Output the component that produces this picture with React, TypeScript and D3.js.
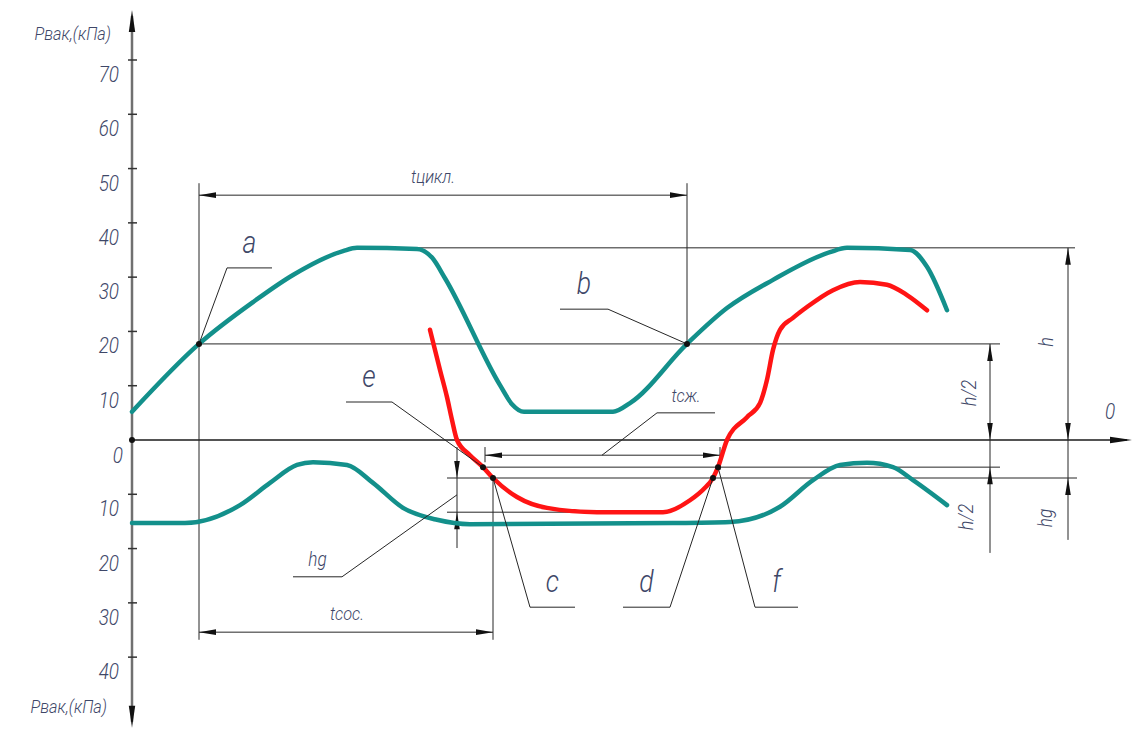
import React from "react";
import * as d3 from "d3";

// Vacuum pressure, kPa, against time (arbitrary units)
const pulsatorUpper: [number, number][] = [
  [0, 5.2], [67, 17.7], [121, 25.4], [161, 30.4], [211, 34.8], [225, 35.4],
  [285, 35.2], [300, 33.6], [313, 29.8], [368, 10.1], [380, 6.6], [392, 5.2],
  [481, 5.2], [498, 6.8], [555, 17.7], [595, 24.3], [641, 29.5], [698, 34.6],
  [715, 35.4], [778, 35.0], [795, 31.9], [815, 23.9],
];

const pulsatorLower: [number, number][] = [
  [0, -15.3], [53, -15.3], [108, -12.0], [138, -7.9], [165, -4.6], [181, -4.1],
  [215, -4.6], [241, -7.9], [271, -12.5], [305, -14.7], [338, -15.5], [541, -15.3],
  [598, -15.1], [648, -12.3], [681, -7.4], [708, -4.6], [735, -4.2], [761, -5.0],
  [781, -7.4], [815, -12.0],
];

const chamberCurve: [number, number][] = [
  [298, 20.3], [308, 12.9], [315, 7.9], [320, 3.7], [325, 0], [338, -2.8],
  [351, -5.0], [361, -7.0], [385, -10.5], [415, -12.5], [465, -13.3], [531, -13.3],
  [558, -11.1], [573, -8.8], [581, -7.0], [586, -5.0], [595, 0], [615, 4.2],
  [628, 6.8], [635, 11.1], [641, 16.6], [648, 20.3], [661, 22.5], [675, 24.5],
  [701, 27.6], [728, 29.1], [755, 28.6], [775, 26.7], [795, 23.9],
];

const upperTicks = [10, 20, 30, 40, 50, 60, 70];
const lowerTicks = [-10, -20, -30, -40];
const axisTitle = "Рвак,(кПа)";

// Characteristic levels and instants
const hLevel = 35.4;
const halfLevel = 17.7;
const eLevel = -5.0;
const cLevel = -7.0;
const chamberMin = -13.3;
const tA = 67;
const tB = 555;
const tC = 361;
const tE = 351;
const tD = 581;
const tF = 586;
const tSzhStart = 353;
const tSzhEnd = 588;
const tHg = 325;

// Leader callouts: anchor point -> elbow -> end of shelf
const callouts = [
  { label: "a", at: [tA, halfLevel], elbow: [95, 31.7], end: 140, size: 31 },
  { label: "b", at: [tB, halfLevel], elbow: [476, 24.1], end: 428, size: 31 },
  { label: "e", at: [tE, eLevel], elbow: [260, 7.0], end: 214, size: 31 },
  { label: "c", at: [tC, cLevel], elbow: [398, -30.8], end: 443, size: 31 },
  { label: "d", at: [tD, cLevel], elbow: [538, -30.8], end: 491, size: 31 },
  { label: "f", at: [tF, eLevel], elbow: [623, -30.8], end: 666, size: 31 },
  { label: "hg", at: [tHg, -10.1], elbow: [210, -25.2], end: 161, size: 20 },
  { label: "tсж.", at: [470, -2.8], elbow: [525, 5.0], end: 583, size: 19 },
];

const W = 1135;
const H = 731;
const FONT = "Roboto, 'DejaVu Sans', sans-serif";
const TEXT = "#3e4768";
const INK = "#262626";
const TEAL = "#13908b";
const RED = "#ff1414";

const x = d3.scaleLinear().domain([0, 1000]).range([132, 1132]);
const y = d3.scaleLinear().domain([0, 70]).range([440, 60]);

const line = d3
  .line<[number, number]>()
  .x((d) => x(d[0]))
  .y((d) => y(d[1]))
  .curve(d3.curveMonotoneX);

type Dir = "left" | "right" | "up" | "down";
function arrow(tx: number, ty: number, dir: Dir, len = 17, hw = 2.8) {
  const pts: [number, number][] =
    dir === "left"
      ? [[tx, ty], [tx + len, ty - hw], [tx + len, ty + hw]]
      : dir === "right"
      ? [[tx, ty], [tx - len, ty - hw], [tx - len, ty + hw]]
      : dir === "up"
      ? [[tx, ty], [tx - hw, ty + len], [tx + hw, ty + len]]
      : [[tx, ty], [tx - hw, ty - len], [tx + hw, ty - len]];
  return "M" + pts.map((p) => p.join(",")).join("L") + "Z";
}

// Narrow italic lettering in the style of drafting fonts
function Txt(props: {
  x: number;
  y: number;
  size: number;
  anchor?: string;
  rotate?: number;
  children: React.ReactNode;
}) {
  const { x: tx, y: ty, size, anchor = "middle", rotate = 0, children } = props;
  return (
    <text
      x={0}
      y={0}
      fontSize={size}
      fontStyle="italic"
      fontWeight={300}
      fontFamily={FONT}
      fill={TEXT}
      textAnchor={anchor}
      transform={`translate(${tx} ${ty}) rotate(${rotate}) scale(0.86 1)`}
    >
      {children}
    </text>
  );
}

export default function App() {
  const x0 = x(0);
  const yTop = y(79.2);
  const yBottom = y(-53);

  const hLine = (t1: number, t2: number, v: number) => (
    <line x1={x(t1)} x2={x(t2)} y1={y(v)} y2={y(v)} stroke={INK} strokeWidth={1} />
  );
  const vLine = (t: number, v1: number, v2: number) => (
    <line x1={x(t)} x2={x(t)} y1={y(v1)} y2={y(v2)} stroke={INK} strokeWidth={1} />
  );

  const cycleDimV = 45.1;
  const suckDimV = -35.4;
  const squeezeDimV = -2.8;
  const tHalfDim = 858;
  const tFullDim = 936;

  return (
    <svg
      width={W}
      height={H}
      style={{ position: "absolute", left: 0, top: 0, background: "#fff" }}
    >
      <rect width={W} height={H} fill="#fff" />

      {/* vertical pressure axis */}
      <line x1={x0} x2={x0} y1={yTop + 6} y2={yBottom - 6} stroke="#707070" strokeWidth={2.5} />
      <path d={arrow(x0, yTop, "up", 22, 3.2)} fill="#111" />
      <path d={arrow(x0, yBottom, "down", 22, 3.2)} fill="#111" />
      {[...upperTicks, ...lowerTicks].map((v) => (
        <g key={v}>
          <line x1={x0 - 4} x2={x0 + 5} y1={y(v)} y2={y(v)} stroke="#333" strokeWidth={1.5} />
          <Txt x={119} y={y(v) + 22} size={22} anchor="end">
            {Math.abs(v)}
          </Txt>
        </g>
      ))}
      <Txt x={123} y={y(0) + 23} size={22} anchor="end">
        0
      </Txt>
      <Txt x={111} y={40} size={19} anchor="end">
        {axisTitle}
      </Txt>
      <Txt x={107} y={713} size={19} anchor="end">
        {axisTitle}
      </Txt>

      {/* horizontal time axis */}
      <line x1={x0} x2={x(995)} y1={y(0)} y2={y(0)} stroke="#1a1a1a" strokeWidth={1.5} />
      <path d={arrow(x(1000), y(0), "right", 22, 3.2)} fill="#111" />
      <Txt x={1110} y={419} size={22}>
        0
      </Txt>

      {/* construction lines */}
      {hLine(275, 943, hLevel)}
      {hLine(tA, 868, halfLevel)}
      {hLine(tSzhStart, 868, eLevel)}
      {hLine(315, 945, cLevel)}
      {hLine(315, 470, chamberMin)}
      {vLine(tA, 47.3, -36.8)}
      {vLine(tB, 47.3, halfLevel)}
      {vLine(tC, cLevel, -36.8)}
      {vLine(tSzhStart, -1.3, -4.1)}
      {vLine(tSzhEnd, -1.3, -5.5)}

      {/* cycle time */}
      {hLine(tA, tB, cycleDimV)}
      <path d={arrow(x(tA), y(cycleDimV), "left")} fill="#111" />
      <path d={arrow(x(tB), y(cycleDimV), "right")} fill="#111" />
      <Txt x={433} y={y(cycleDimV) - 12} size={19}>
        tцикл.
      </Txt>

      {/* suction time */}
      {hLine(tA, tC, suckDimV)}
      <path d={arrow(x(tA), y(suckDimV), "left")} fill="#111" />
      <path d={arrow(x(tC), y(suckDimV), "right")} fill="#111" />
      <Txt x={347} y={y(suckDimV) - 12} size={19}>
        tсос.
      </Txt>

      {/* squeeze time */}
      {hLine(tSzhStart, tSzhEnd, squeezeDimV)}
      <path d={arrow(x(tSzhStart), y(squeezeDimV), "left")} fill="#111" />
      <path d={arrow(x(tSzhEnd), y(squeezeDimV), "right")} fill="#111" />

      {/* hg dimension */}
      {vLine(tHg, -1.3, -19.9)}
      <path d={arrow(x(tHg), y(cLevel), "down")} fill="#111" />
      <path d={arrow(x(tHg), y(chamberMin), "up")} fill="#111" />

      {/* right-hand amplitude dimensions */}
      {vLine(tHalfDim, halfLevel, -20.8)}
      <path d={arrow(x(tHalfDim), y(halfLevel), "up")} fill="#111" />
      <path d={arrow(x(tHalfDim), y(0), "down")} fill="#111" />
      <path d={arrow(x(tHalfDim), y(eLevel), "up")} fill="#111" />
      {vLine(tFullDim, hLevel, -18.4)}
      <path d={arrow(x(tFullDim), y(hLevel), "up")} fill="#111" />
      <path d={arrow(x(tFullDim), y(0), "down")} fill="#111" />
      <path d={arrow(x(tFullDim), y(cLevel), "up")} fill="#111" />
      <Txt x={976} y={393} size={21} rotate={-90}>
        h/2
      </Txt>
      <Txt x={973} y={517} size={21} rotate={-90}>
        h/2
      </Txt>
      <Txt x={1053} y={342} size={21} rotate={-90}>
        h
      </Txt>
      <Txt x={1052} y={518} size={20} rotate={-90}>
        hg
      </Txt>

      {/* pressure curves */}
      <path d={line(pulsatorUpper) ?? ""} fill="none" stroke={TEAL} strokeWidth={4.5} strokeLinejoin="round" strokeLinecap="round" />
      <path d={line(pulsatorLower) ?? ""} fill="none" stroke={TEAL} strokeWidth={4.5} strokeLinejoin="round" strokeLinecap="round" />
      <path d={line(chamberCurve) ?? ""} fill="none" stroke={RED} strokeWidth={4.5} strokeLinejoin="round" strokeLinecap="round" />

      {/* callouts */}
      {callouts.map((c) => {
        const ax = x(c.at[0]);
        const ay = y(c.at[1]);
        const ex = x(c.elbow[0]);
        const ey = y(c.elbow[1]);
        const sx = x(c.end);
        const mid = (ex + sx) / 2;
        return (
          <g key={c.label}>
            <polyline
              points={`${ax},${ay} ${ex},${ey} ${sx},${ey}`}
              fill="none"
              stroke={INK}
              strokeWidth={1}
            />
            <Txt x={mid} y={ey - (c.size > 21 ? 15 : 11)} size={c.size}>
              {c.label}
            </Txt>
          </g>
        );
      })}

      {/* marked points */}
      {[
        [0, 0],
        [tA, halfLevel],
        [tB, halfLevel],
        [tE, eLevel],
        [tC, cLevel],
        [tD, cLevel],
        [tF, eLevel],
      ].map(([t, v], i) => (
        <circle key={i} cx={x(t)} cy={y(v)} r={3} fill="#111" />
      ))}
    </svg>
  );
}
